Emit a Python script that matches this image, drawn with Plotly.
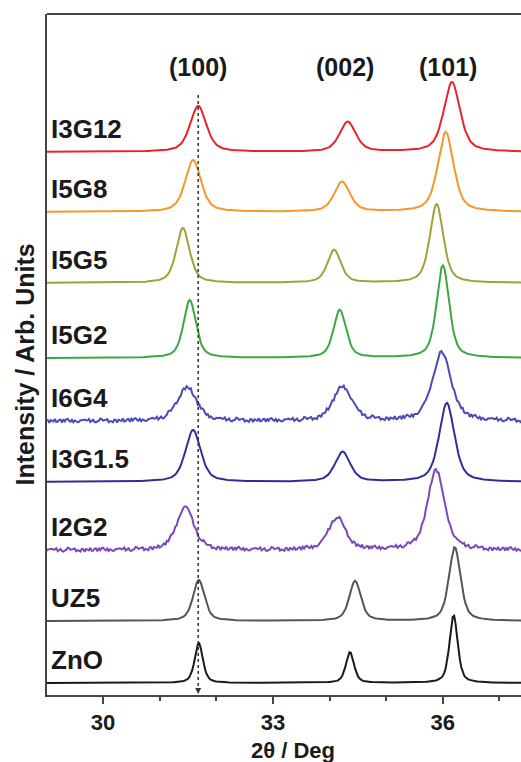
import numpy as np
import plotly.graph_objects as go

# Sample names (top to bottom) and line colours
samples = ["I3G12", "I5G8", "I5G5", "I5G2", "I6G4", "I3G1.5", "I2G2", "UZ5", "ZnO"]
colors = ["#e8242c", "#f7962a", "#a3a03a", "#3aa844", "#4a4ab8", "#2e3094", "#7e48b8", "#555555", "#1a1a1a"]

# Vertical offset of each pattern's baseline (arb. units)
offsets = [543, 483, 412, 337, 274, 213, 145, 74, 12]

# Peak positions (2θ, deg) for the (100), (002), (101) reflections
pos_100 = [31.68, 31.59, 31.41, 31.53, 31.48, 31.59, 31.45, 31.69, 31.69]
pos_002 = [34.32, 34.22, 34.08, 34.18, 34.23, 34.23, 34.13, 34.45, 34.36]
pos_101 = [36.16, 36.05, 35.89, 36.00, 35.98, 36.07, 35.88, 36.21, 36.19]

# Peak heights above baseline (arb. units)
h_100 = [46, 52, 55, 58, 34, 52, 43, 41, 40]
h_002 = [30, 30, 33, 48, 34, 30, 32, 40, 31]
h_101 = [70, 80, 79, 93, 68, 79, 80, 74, 68]

# Peak widths (FWHM, deg)
fwhm = [0.34, 0.33, 0.28, 0.26, 0.40, 0.32, 0.36, 0.24, 0.17]

# Noisy patterns and their counting-noise jitter (arb. units)
noisy = {"I6G4": 0, "I2G2": 17}
jitter = [0.8, -1.2, 1.5, -0.4, 0.2, -1.8, 1.1, 0.6, -0.9, 1.9, -1.4, 0.3, -0.6, 1.3, -2.0, 0.9,
          0.1, -1.1, 1.7, -0.3, -1.6, 0.7, 1.2, -0.8, 0.4, -1.3, 2.1, -0.5, 0.0, -1.7, 1.0, 0.5,
          -0.2, 1.6, -1.0, -0.7, 1.4, -1.5, 0.6, 0.9, -0.1, -1.9, 1.8, -0.6, 0.3, 1.1, -1.4, 0.2]

# Peak labels
hkl_labels = ["(100)", "(002)", "(101)"]
hkl_pos = [31.68, 34.27, 36.09]

x_range = [29.01, 37.38]
ref_line_x = 31.68

two_theta = np.arange(29.0, 37.4001, 0.025)


def pseudo_voigt(x, x0, h, w, eta=0.55):
    g = np.exp(-4 * np.log(2) * ((x - x0) / w) ** 2)
    l = 1.0 / (1.0 + 4 * ((x - x0) / w) ** 2)
    return h * (eta * l + (1 - eta) * g)


fig = go.Figure()
for i, name in enumerate(samples):
    y = np.full_like(two_theta, float(offsets[i]))
    for p, hh in ((pos_100, h_100), (pos_002, h_002), (pos_101, h_101)):
        y += pseudo_voigt(two_theta, p[i], hh[i], fwhm[i])
    if name in noisy:
        start = noisy[name]
        n = len(jitter)
        y += np.array([jitter[(start + k * 7) % n] for k in range(len(two_theta))])
    fig.add_trace(go.Scatter(x=two_theta, y=y, mode="lines", name=name,
                             line=dict(color=colors[i], width=2), showlegend=False,
                             hoverinfo="skip"))

font_b = dict(family="Liberation Sans, Arial, sans-serif", color="#1a1a1a", weight="bold")

# Sample labels
for i, name in enumerate(samples):
    fig.add_annotation(x=29.05, y=offsets[i] + 23, text=name, showarrow=False,
                       xanchor="left", yanchor="middle", font=dict(size=26, **font_b))

# Reflection labels
for lab, xp in zip(hkl_labels, hkl_pos):
    fig.add_annotation(x=xp, y=628, text=lab, showarrow=False, xanchor="center",
                       yanchor="middle", font=dict(size=25, **font_b))

# Dotted reference line with a small arrowhead at the axis
fig.add_shape(type="line", x0=ref_line_x, x1=ref_line_x, y0=600, y1=6,
              line=dict(color="#333333", width=1.5, dash="dot"))
fig.add_annotation(x=ref_line_x, y=1, ax=0, ay=-7, showarrow=True, arrowhead=2,
                   arrowsize=0.8, arrowwidth=1.5, arrowcolor="#333333", text="")

# Top frame line
fig.add_shape(type="line", xref="paper", yref="paper", x0=0, x1=1, y0=1, y1=1,
              line=dict(color="#444444", width=2))

# Axis titles
fig.add_annotation(xref="paper", yref="paper", x=-0.047, y=0.485, text="Intensity / Arb. Units",
                   textangle=-90, showarrow=False, xanchor="center", yanchor="middle",
                   font=dict(size=25, **font_b))
fig.add_annotation(xref="paper", yref="paper", x=0.52, y=-0.0815, text="2θ / Deg",
                   showarrow=False, xanchor="center", yanchor="middle",
                   font=dict(size=22, **font_b))

fig.update_xaxes(range=x_range, showline=True, linecolor="#444444", linewidth=2,
                 ticks="outside", ticklen=7, tickwidth=1.5, tickcolor="#444444",
                 tickvals=[30, 33, 36], ticktext=["30", "33", "36"],
                 minor=dict(tickvals=[29, 31, 32, 34, 35, 37], ticks="outside", ticklen=4,
                            tickwidth=1.5, tickcolor="#444444"),
                 tickfont=dict(size=22, **font_b), showgrid=False, zeroline=False)
fig.update_yaxes(range=[0, 681], showline=True, linecolor="#444444", linewidth=2,
                 showticklabels=False, ticks="", showgrid=False, zeroline=False)

fig.update_layout(width=521, height=762, margin=dict(l=47, r=0, t=14, b=67),
                  plot_bgcolor="white", paper_bgcolor="white")

fig.write_html("out.html")
